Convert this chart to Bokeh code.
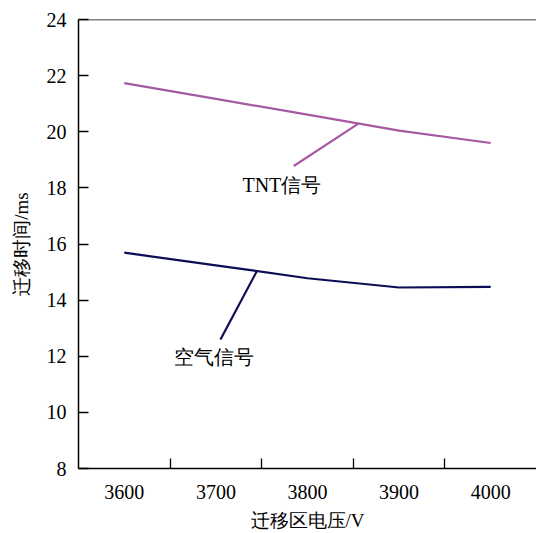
from bokeh.plotting import figure
from bokeh.models import FixedTicker, Span, Range1d
from bokeh.core.properties import value
from bokeh.embed import file_html
from bokeh.resources import INLINE

voltage = [3600, 3700, 3800, 3900, 4000]
tnt_time = [21.73, 21.17, 20.61, 20.04, 19.60]
air_time = [15.69, 15.24, 14.78, 14.45, 14.47]
x_ticks = [3600, 3700, 3800, 3900, 4000]
x_boundaries = [3650, 3750, 3850, 3950]
y_ticks = [8, 10, 12, 14, 16, 18, 20, 22, 24]

tnt_label = "TNT信号"
air_label = "空气信号"
tnt_leader_x = [3785, 3856]
tnt_leader_y = [18.78, 20.30]
air_leader_x = [3705, 3745]
air_leader_y = [12.60, 15.05]
tnt_label_pos = (3772, 18.10)
air_label_pos = (3698, 11.97)

TNT_COLOR = "#a65aa3"
AIR_COLOR = "#0d0d55"
FONT = "'Liberation Serif', 'Times New Roman', serif"

p = figure(width=536, height=533, output_backend="svg", toolbar_location=None,
           x_range=Range1d(3550, 4050), y_range=Range1d(8, 24),
           min_border_left=78, min_border_right=0, min_border_top=19, min_border_bottom=65)
p.background_fill_color = "white"
p.border_fill_color = "white"
p.outline_line_color = None
p.grid.visible = False

p.line(voltage, tnt_time, line_color=TNT_COLOR, line_width=2.2)
p.line(voltage, air_time, line_color=AIR_COLOR, line_width=2.2)
p.line(tnt_leader_x, tnt_leader_y, line_color=TNT_COLOR, line_width=2.2)
p.line(air_leader_x, air_leader_y, line_color=AIR_COLOR, line_width=2.2)

p.text(x=[tnt_label_pos[0]], y=[tnt_label_pos[1]], text=[tnt_label],
       text_font=value(FONT), text_font_size="20px", text_align="center",
       text_baseline="middle", text_color="black")
p.text(x=[air_label_pos[0]], y=[air_label_pos[1]], text=[air_label],
       text_font=value(FONT), text_font_size="20px", text_align="center",
       text_baseline="middle", text_color="black")

p.add_layout(Span(location=24, dimension="width", line_color="black", line_width=1.5))

xa = p.xaxis[0]
xa.ticker = FixedTicker(ticks=x_ticks, minor_ticks=x_boundaries)
xa.major_tick_line_color = None
xa.minor_tick_in = 10
xa.minor_tick_out = 0
xa.minor_tick_line_color = "black"
xa.minor_tick_line_width = 1.3
xa.axis_line_width = 1.5
xa.axis_line_color = "black"
xa.major_label_text_font = FONT
xa.major_label_text_font_size = "20px"
xa.major_label_text_color = "black"
xa.major_label_standoff = 10
xa.axis_label = "迁移区电压/V"
xa.axis_label_text_font = FONT
xa.axis_label_text_font_size = "19px"
xa.axis_label_text_font_style = "normal"
xa.axis_label_text_color = "black"
xa.axis_label_standoff = 8

ya = p.yaxis[0]
ya.ticker = FixedTicker(ticks=y_ticks)
ya.major_tick_in = 10
ya.major_tick_out = 0
ya.major_tick_line_width = 1.3
ya.minor_tick_line_color = None
ya.axis_line_width = 1.5
ya.axis_line_color = "black"
ya.major_label_text_font = FONT
ya.major_label_text_font_size = "20px"
ya.major_label_text_color = "black"
ya.major_label_standoff = 12
ya.axis_label = "迁移时间/ms"
ya.axis_label_text_font = FONT
ya.axis_label_text_font_size = "19px"
ya.axis_label_text_font_style = "normal"
ya.axis_label_text_color = "black"
ya.axis_label_standoff = 12

open("out.html", "w").write(file_html(p, INLINE))
